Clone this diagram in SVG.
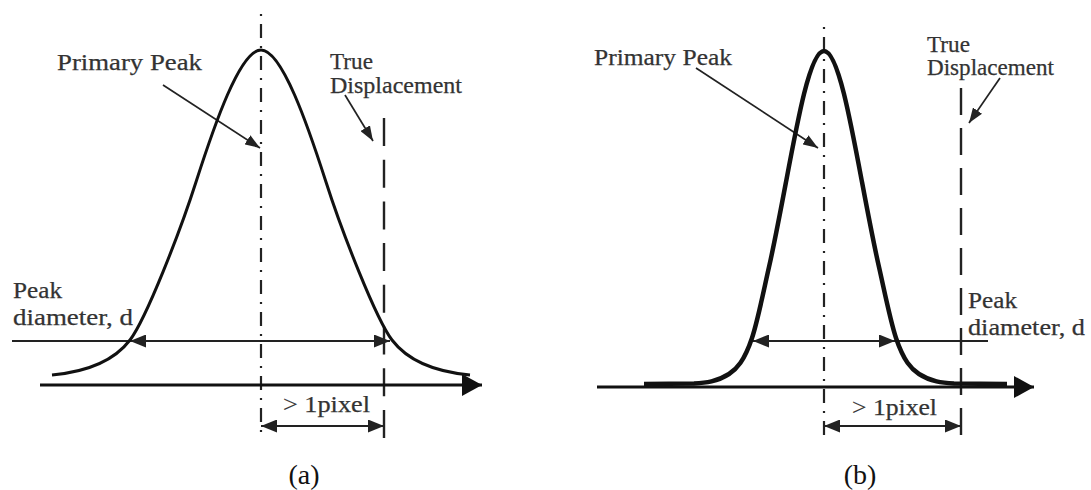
<svg xmlns="http://www.w3.org/2000/svg" width="1091" height="490" viewBox="0 0 1091 490">
<style>
.lbl{font-family:"Liberation Serif","Times New Roman",serif;font-size:23px;fill:#333;stroke:#333;stroke-width:0.25}
.cap{font-family:"Liberation Serif","Times New Roman",serif;font-size:28px;fill:#111;text-anchor:middle}
.curveA{fill:none;stroke:#111;stroke-width:3}
.curveB{fill:none;stroke:#111;stroke-width:4.5}
.axis{stroke:#111;stroke-width:3;fill:none}
.thin{stroke:#222;stroke-width:1.9;fill:none}
.lead{stroke:#222;stroke-width:1.7;fill:none}
.dd{stroke:#222;stroke-width:2.2;stroke-dasharray:2 8 14 8;fill:none}
.dsA{stroke:#222;stroke-width:2.4;stroke-dasharray:28 13.7;fill:none}
.dsB{stroke:#222;stroke-width:2.4;stroke-dasharray:27 13;fill:none}
</style>
<defs>
<marker id="ah" markerWidth="16" markerHeight="13" refX="16" refY="6.5" orient="auto-start-reverse" markerUnits="userSpaceOnUse"><path d="M0,0 L16,6.5 L0,13 z" fill="#222"/></marker>
<marker id="ahs" markerWidth="15" markerHeight="11" refX="15" refY="5.5" orient="auto-start-reverse" markerUnits="userSpaceOnUse"><path d="M0,0 L15,5.5 L0,11 z" fill="#222"/></marker>
<marker id="big" markerWidth="20" markerHeight="22" refX="20" refY="11" orient="auto" markerUnits="userSpaceOnUse"><path d="M0,0 L20,11 L0,22 z" fill="#111"/></marker>
</defs>

<g id="connectors">
  <!-- panel a -->
  <line class="dd" x1="261" y1="14" x2="261" y2="437"/>
  <line class="dsA" x1="384" y1="118" x2="384" y2="438"/>
  <line class="axis" x1="40" y1="385" x2="482" y2="385" marker-end="url(#big)"/>
  <line class="thin" x1="12" y1="341" x2="130" y2="341"/>
  <line class="thin" x1="130" y1="341" x2="390" y2="341" marker-start="url(#ah)" marker-end="url(#ah)"/>
  <line class="thin" x1="261" y1="426" x2="384" y2="426" marker-start="url(#ah)" marker-end="url(#ah)"/>
  <line class="lead" x1="163" y1="85" x2="260" y2="148" marker-end="url(#ahs)"/>
  <line class="lead" x1="345" y1="95" x2="373" y2="141" marker-end="url(#ahs)"/>
  <!-- panel b -->
  <line class="dd" x1="824" y1="27" x2="824" y2="437"/>
  <line class="dsB" x1="961" y1="88" x2="961" y2="437"/>
  <line class="axis" x1="597" y1="387" x2="1034" y2="387" marker-end="url(#big)"/>
  <line class="thin" x1="753" y1="341" x2="895" y2="341" marker-start="url(#ah)" marker-end="url(#ah)"/>
  <line class="thin" x1="895" y1="341" x2="988" y2="341"/>
  <line class="thin" x1="824" y1="426" x2="961" y2="426" marker-start="url(#ah)" marker-end="url(#ah)"/>
  <line class="lead" x1="696" y1="68" x2="818" y2="148" marker-end="url(#ahs)"/>
  <line class="lead" x1="1000" y1="78" x2="969" y2="123" marker-end="url(#ahs)"/>
</g>

<g id="curve-a">
  <path class="curveA" d="M52,375 C85,372 114,361 130,340 C146,319 180,232 196,182 C214,126 240,50 261,50 C282,50 308,126 326,182 C342,232 376,319 392,340 C408,361 437,372 470,375"/>
</g>
<g id="curve-b">
  <path class="curveB" d="M644,384 L694,383.5 C705.7,382.9 717.3,381.6 729,374 C736.7,369 744.3,361 752,338 C757.7,321 763.3,292.3 769,267.1 C774.7,241.9 780.3,212.2 786,182 C792,150.1 798,118.1 804,94 C810.7,67.2 817.3,51 824,51 C830.7,51 837.3,67.2 844,94 C850,118.1 856,150.1 862,182 C867.7,212.2 873.3,241.9 879,267.1 C884.7,292.3 890.3,321 896,338 C903.7,361 911.3,369 919,374 C930.7,381.6 942.3,382.9 954,383.5 L1007,384"/>
</g>

<g id="labels-a">
  <text class="lbl" x="57" y="70" textLength="145" lengthAdjust="spacingAndGlyphs">Primary Peak</text>
  <text class="lbl" x="330" y="69" textLength="43" lengthAdjust="spacingAndGlyphs">True</text>
  <text class="lbl" x="330" y="93" textLength="132" lengthAdjust="spacingAndGlyphs">Displacement</text>
  <text class="lbl" x="13" y="298" textLength="49" lengthAdjust="spacingAndGlyphs">Peak</text>
  <text class="lbl" x="13" y="325" textLength="120" lengthAdjust="spacingAndGlyphs">diameter, d</text>
  <text class="lbl" x="283" y="412" textLength="87" lengthAdjust="spacingAndGlyphs">&gt; 1pixel</text>
  <text class="cap" x="304" y="484">(a)</text>
</g>
<g id="labels-b">
  <text class="lbl" x="594" y="65" textLength="138" lengthAdjust="spacingAndGlyphs">Primary Peak</text>
  <text class="lbl" x="927" y="52" textLength="43" lengthAdjust="spacingAndGlyphs">True</text>
  <text class="lbl" x="927" y="75" textLength="127" lengthAdjust="spacingAndGlyphs">Displacement</text>
  <text class="lbl" x="968" y="308" textLength="49" lengthAdjust="spacingAndGlyphs">Peak</text>
  <text class="lbl" x="968" y="335" textLength="117" lengthAdjust="spacingAndGlyphs">diameter, d</text>
  <text class="lbl" x="852" y="415" textLength="85" lengthAdjust="spacingAndGlyphs">&gt; 1pixel</text>
  <text class="cap" x="860" y="484">(b)</text>
</g>
</svg>
